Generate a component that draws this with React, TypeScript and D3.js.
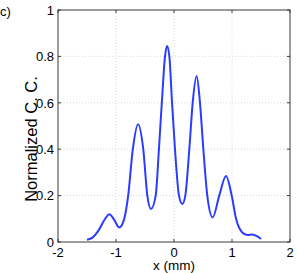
import React from "react";
import * as d3 from "d3";

const xValues = [-1.5, -1.4, -1.3, -1.2, -1.115, -1.03, -0.945, -0.87, -0.79, -0.71, -0.62, -0.53, -0.46, -0.397, -0.316, -0.26, -0.21, -0.155, -0.12, -0.08, -0.034, 0.017, 0.086, 0.143, 0.195, 0.264, 0.322, 0.39, 0.448, 0.506, 0.574, 0.667, 0.78, 0.897, 0.995, 1.07, 1.195, 1.27, 1.35, 1.43, 1.5];
const yValues = [0.01, 0.02, 0.05, 0.095, 0.12, 0.095, 0.063, 0.09, 0.2, 0.4, 0.508, 0.4, 0.2, 0.142, 0.2, 0.4, 0.6, 0.8, 0.845, 0.8, 0.6, 0.4, 0.2, 0.164, 0.2, 0.4, 0.6, 0.716, 0.6, 0.4, 0.2, 0.106, 0.2, 0.284, 0.2, 0.1, 0.037, 0.03, 0.032, 0.025, 0.013];
const xTicks = [-2, -1, 0, 1, 2];
const yTicks = [0, 0.2, 0.4, 0.6, 0.8, 1];
const yTickLabels = ["0", "0.2", "0.4", "0.6", "0.8", "1"];
const xTickLabels = ["-2", "-1", "0", "1", "2"];

export default function App() {
  const W = 297, H = 273;
  const left = 58, right = 290, top = 10, bottom = 242;
  const x = d3.scaleLinear().domain([-2, 2]).range([left, right]);
  const y = d3.scaleLinear().domain([0, 1]).range([bottom, top]);
  const pts: [number, number][] = xValues.map((v, i) => [v, yValues[i]]);
  const line = d3.line<[number, number]>().x(d => x(d[0])).y(d => y(d[1])).curve(d3.curveMonotoneX);
  const font = "'Liberation Sans', Arial, sans-serif";
  const axisColor = "#3a3a3a";
  const tl = 3;
  return (
    <svg width={W} height={H} style={{ position: "absolute", left: 0, top: 0 }} fontFamily={font}>
      <rect x={0} y={0} width={W} height={H} fill="#fff" />
      {xTicks.slice(1, -1).map(t => (
        <line key={"gx" + t} x1={x(t)} x2={x(t)} y1={top} y2={bottom} stroke="#c8c8c8" strokeWidth={0.7} strokeDasharray="1,2" />
      ))}
      {yTicks.slice(1, -1).map(t => (
        <line key={"gy" + t} x1={left} x2={right} y1={y(t)} y2={y(t)} stroke="#c8c8c8" strokeWidth={0.7} strokeDasharray="1,2" />
      ))}
      {xTicks.map(t => (
        <g key={"tx" + t}>
          <line x1={x(t)} x2={x(t)} y1={bottom} y2={bottom - tl} stroke={axisColor} />
          <line x1={x(t)} x2={x(t)} y1={top} y2={top + tl} stroke={axisColor} />
        </g>
      ))}
      {yTicks.map(t => (
        <g key={"ty" + t}>
          <line x1={left} x2={left + tl} y1={y(t)} y2={y(t)} stroke={axisColor} />
          <line x1={right} x2={right - tl} y1={y(t)} y2={y(t)} stroke={axisColor} />
        </g>
      ))}
      <path d={line(pts) || ""} fill="none" stroke="#2b3cff" strokeWidth={2} />
      <rect x={left} y={top} width={right - left} height={bottom - top} fill="none" stroke={axisColor} strokeWidth={1} />
      {xTicks.map((t, i) => (
        <text key={"lx" + t} x={x(t)} y={256.5} textAnchor="middle" fontSize={13} fill="#000">{xTickLabels[i]}</text>
      ))}
      {yTicks.map((t, i) => (
        <text key={"ly" + t} x={54} y={y(t) + 4.7} textAnchor="end" fontSize={13} fill="#000">{yTickLabels[i]}</text>
      ))}
      <text x={174} y={270} textAnchor="middle" fontSize={13.5} fill="#000">x (mm)</text>
      <text transform={`translate(37, 139) rotate(-90)`} textAnchor="middle" fontSize={16.5} fill="#000">Normalized C. C.</text>
      <text x={0} y={16} fontSize={13} fill="#000">c)</text>
    </svg>
  );
}
